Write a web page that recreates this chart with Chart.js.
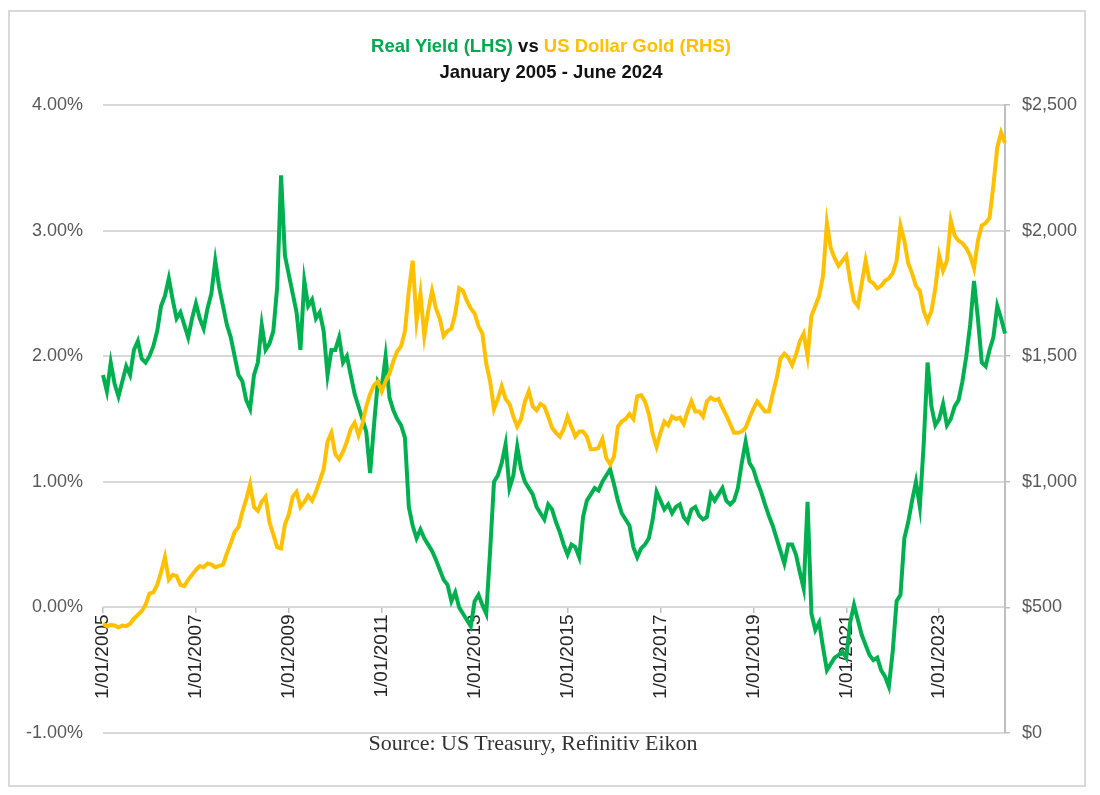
<!DOCTYPE html>
<html>
<head>
<meta charset="utf-8">
<title>Real Yield vs US Dollar Gold</title>
<script src="https://cdn.jsdelivr.net/npm/chart.js@4.4.1/dist/chart.umd.min.js"></script>
<style>
    html, body { margin: 0; padding: 0; background: #fff; }
    #wrap { position: relative; width: 1100px; height: 795px; }
    #goldChart { position: absolute; left: 0; top: 0; }
    #frame { position: absolute; left: 8px; top: 10px; width: 1074px; height: 773px; border: 2px solid #d9d9d9; }
    .title { position: absolute; left: 0; width: 1102px; text-align: center; font: bold 18.5px "Liberation Sans", Arial, sans-serif; line-height: 20px; color: #111; }
    #title1 { top: 36px; }
    #title2 { top: 62px; }
    #source { position: absolute; left: 0; width: 1066px; top: 731px; text-align: center; font: 22px "Liberation Serif", serif; line-height: 24px; color: #333; }
</style>
</head>
<body>
<div id="wrap">
    <canvas id="goldChart" width="1100" height="795"></canvas>
    <div id="frame"></div>
    <div class="title" id="title1"><span style="color:#00a84f">Real Yield (LHS)</span> vs <span style="color:#ffc000">US Dollar Gold (RHS)</span></div>
    <div class="title" id="title2">January 2005 - June 2024</div>
    <div id="source">Source: US Treasury, Refinitiv Eikon</div>
</div>
<script>
// Datos mensuales, enero 2005 - junio 2024
const startYear = 2005;
const tickYears = [2005, 2007, 2009, 2011, 2013, 2015, 2017, 2019, 2021, 2023];

// Real yield (%), eje izquierdo
const realYield = [
    1.85, 1.72, 1.95, 1.78, 1.68, 1.80, 1.92, 1.85, 2.05, 2.12, 1.98, 1.95,  // 2005
    2.00, 2.08, 2.20, 2.40, 2.48, 2.62, 2.45, 2.30, 2.35, 2.25, 2.15, 2.30,  // 2006
    2.42, 2.30, 2.22, 2.38, 2.50, 2.76, 2.55, 2.40, 2.25, 2.15, 2.00, 1.85,  // 2007
    1.80, 1.65, 1.58, 1.85, 1.95, 2.25, 2.05, 2.10, 2.20, 2.55, 3.44, 2.80,  // 2008
    2.65, 2.50, 2.35, 2.05, 2.60, 2.40, 2.45, 2.30, 2.35, 2.20, 1.85, 2.05,  // 2009
    2.05, 2.15, 1.95, 2.00, 1.85, 1.70, 1.60, 1.50, 1.40, 1.07, 1.45, 1.80,  // 2010
    1.75, 2.00, 1.67, 1.57, 1.50, 1.45, 1.35, 0.80, 0.65, 0.55, 0.62, 0.55,  // 2011
    0.50, 0.45, 0.38, 0.30, 0.22, 0.18, 0.05, 0.12, 0.00, -0.05, -0.10, -0.15, // 2012
    0.05, 0.10, 0.02, -0.05, 0.45, 1.00, 1.05, 1.15, 1.30, 0.95, 1.05, 1.28, // 2013
    1.10, 1.00, 0.95, 0.90, 0.80, 0.75, 0.70, 0.82, 0.78, 0.68, 0.60, 0.50,  // 2014
    0.42, 0.50, 0.48, 0.40, 0.72, 0.85, 0.90, 0.95, 0.93, 1.00, 1.05, 1.10,  // 2015
    0.98, 0.85, 0.75, 0.70, 0.65, 0.48, 0.40, 0.47, 0.50, 0.55, 0.70, 0.92,  // 2016
    0.85, 0.78, 0.82, 0.75, 0.80, 0.82, 0.72, 0.68, 0.78, 0.80, 0.73, 0.70,  // 2017
    0.72, 0.90, 0.85, 0.90, 0.95, 0.85, 0.82, 0.85, 0.95, 1.15, 1.32, 1.15,  // 2018
    1.10, 1.00, 0.92, 0.82, 0.73, 0.65, 0.55, 0.45, 0.35, 0.50, 0.50, 0.42,  // 2019
    0.28, 0.15, 0.84, -0.05, -0.18, -0.12, -0.32, -0.50, -0.45, -0.40, -0.38, -0.35, // 2020
    -0.40, -0.12, 0.02, -0.10, -0.22, -0.30, -0.38, -0.42, -0.40, -0.50, -0.55, -0.63, // 2021
    -0.35, 0.05, 0.10, 0.55, 0.68, 0.85, 1.00, 0.80, 1.30, 1.95, 1.60, 1.45, // 2022
    1.50, 1.62, 1.45, 1.50, 1.60, 1.65, 1.80, 2.00, 2.25, 2.60, 2.30, 1.95,  // 2023
    1.92, 2.05, 2.15, 2.40, 2.30, 2.18                                       // 2024
];

// Oro en USD, eje derecho
const goldPrice = [
    435, 425, 430, 428, 420, 428, 425, 435, 455, 470, 485, 510,              // 2005
    555, 560, 590, 640, 700, 610, 630, 625, 590, 585, 610, 630,              // 2006
    650, 665, 660, 675, 670, 660, 665, 670, 715, 755, 800, 820,              // 2007
    880, 930, 990, 900, 885, 920, 940, 840, 790, 740, 735, 830,              // 2008
    870, 940, 960, 900, 920, 945, 925, 960, 1005, 1050, 1160, 1195,          // 2009
    1110, 1090, 1120, 1160, 1210, 1235, 1185, 1230, 1300, 1350, 1385, 1400,  // 2010
    1360, 1400, 1430, 1480, 1520, 1540, 1600, 1760, 1880, 1640, 1750, 1580,  // 2011
    1680, 1760, 1690, 1650, 1580, 1600, 1610, 1670, 1770, 1760, 1720, 1690,  // 2012
    1670, 1620, 1590, 1470, 1400, 1290, 1330, 1380, 1330, 1310, 1260, 1220,  // 2013
    1250, 1320, 1360, 1300, 1285, 1310, 1300, 1260, 1215, 1195, 1180, 1210,  // 2014
    1260, 1220, 1180, 1200, 1200, 1180, 1130, 1130, 1135, 1170, 1095, 1070,  // 2015
    1100, 1220, 1240, 1250, 1270, 1250, 1340, 1345, 1320, 1270, 1190, 1140,  // 2016
    1195, 1240, 1225, 1260, 1250, 1255, 1230, 1280, 1320, 1280, 1280, 1260,  // 2017
    1320, 1335, 1325, 1330, 1295, 1265, 1230, 1195, 1195, 1200, 1215, 1255,  // 2018
    1290, 1320, 1300, 1280, 1280, 1350, 1410, 1490, 1510, 1495, 1465, 1505,  // 2019
    1560, 1590, 1500, 1660, 1700, 1740, 1820, 2030, 1930, 1890, 1860, 1880,  // 2020
    1900, 1800, 1720, 1700, 1790, 1880, 1800, 1790, 1770, 1780, 1800, 1810,  // 2021
    1830, 1880, 2020, 1960, 1870, 1830, 1780, 1760, 1680, 1640, 1680, 1770,  // 2022
    1900, 1840, 1880, 2040, 1980, 1960, 1950, 1930, 1900, 1850, 1960, 2020,  // 2023
    2030, 2050, 2180, 2330, 2390, 2350                                       // 2024
];

// Etiquetas tipo 1/MM/AAAA
const months = realYield.map((v, i) => {
    const m = String(i % 12 + 1).padStart(2, '0');
    return '1/' + m + '/' + (startYear + Math.floor(i / 12));
});

function createGoldChart() {
    Chart.defaults.font.family = '"Liberation Sans", Arial, sans-serif';
    const ctx = document.getElementById("goldChart").getContext("2d");
    new Chart(ctx, {
        type: "line",
        data: {
            labels: months,
            datasets: [{
                label: "Real Yield (LHS)",
                data: realYield,
                yAxisID: "y",
                borderColor: "#00b050",
                borderWidth: 4,
                pointRadius: 0,
                order: 1
            }, {
                label: "US Dollar Gold (RHS)",
                data: goldPrice,
                yAxisID: "y1",
                borderColor: "#ffc000",
                borderWidth: 4,
                pointRadius: 0,
                order: 0
            }]
        },
        options: {
            responsive: false,
            devicePixelRatio: 1,
            animation: false,
            layout: { padding: { top: 105, bottom: 62, left: 0, right: 0 } },
            plugins: { legend: { display: false }, tooltip: { enabled: false } },
            scales: {
                x: {
                    position: { y: 0 },
                    border: { display: false },
                    grid: { drawOnChartArea: false, tickLength: 6, color: "#bfbfbf", lineWidth: 1.5 },
                    ticks: {
                        autoSkip: false,
                        minRotation: 90,
                        maxRotation: 90,
                        padding: 1,
                        color: "#262626",
                        font: { size: 19 },
                        callback: function (value) {
                            const label = this.getLabelForValue(value);
                            const parts = label.split('/');
                            // solo enero de los años marcados
                            return (parts[1] === '01' && tickYears.includes(+parts[2])) ? label : null;
                        }
                    }
                },
                y: {
                    position: "left",
                    min: -1,
                    max: 4,
                    border: { display: false },
                    grid: { color: "#d9d9d9", lineWidth: 2, drawTicks: false },
                    ticks: {
                        stepSize: 1,
                        padding: 20,
                        color: "#595959",
                        font: { size: 18 },
                        callback: v => v.toFixed(2) + '%'
                    },
                    afterFit: s => { s.width = 103; }
                },
                y1: {
                    position: "right",
                    min: 0,
                    max: 2500,
                    border: { display: true, color: "#bfbfbf", width: 2 },
                    grid: { drawOnChartArea: false, tickLength: 5, color: "#bfbfbf", lineWidth: 1.5 },
                    ticks: {
                        stepSize: 500,
                        padding: 12,
                        color: "#595959",
                        font: { size: 18 },
                        callback: v => '$' + v.toLocaleString('en-US')
                    },
                    afterFit: s => { s.width = 95; }
                }
            }
        }
    });
}

document.addEventListener('DOMContentLoaded', createGoldChart);
</script>
</body>
</html>
